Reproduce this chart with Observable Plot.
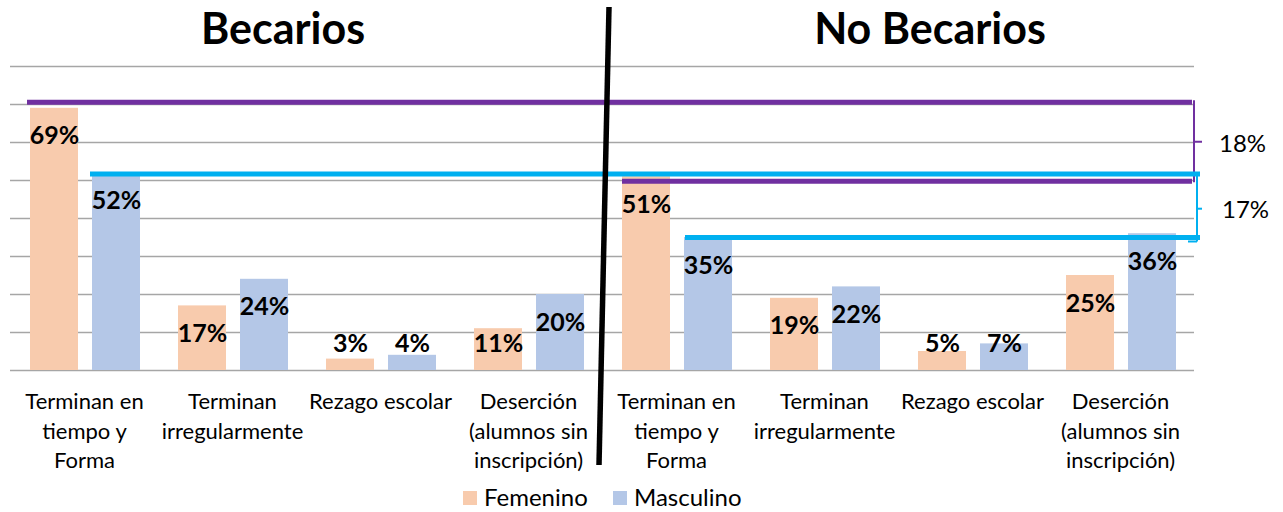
<!DOCTYPE html>
<html><head><meta charset="utf-8">
<script src="https://cdn.jsdelivr.net/npm/d3@7"></script>
<script src="https://cdn.jsdelivr.net/npm/@observablehq/plot@0.6"></script>
<style>
body{margin:0;background:#fff;font-family:Lato,sans-serif;}
#chart svg{display:block;font-family:Lato,sans-serif;}
</style></head><body><div id="chart"></div>
<script>
const panels = ["Becarios", "No Becarios"];
const categories = ["Terminan en\ntiempo y\nForma", "Terminan\nirregularmente", "Rezago escolar", "Deserción\n(alumnos sin\ninscripción)"];
const series = ["Femenino", "Masculino"];
const femenino = [69, 17, 3, 11, 51, 19, 5, 25];
const masculino = [52, 24, 4, 20, 35, 22, 7, 36];
const colors = ["#F8CBAD", "#B4C7E7"];
const yTicks = [0, 10, 20, 30, 40, 50, 60, 70, 80];
const gapLabels = ["18%", "17%"];
const gapColors = ["#7030A0", "#00B0F0"];

const keys = [];
const rows = [];
panels.forEach((p, pi) => categories.forEach((c, ci) => {
  const k = p + "|" + ci;
  keys.push(k);
  const gi = pi * 4 + ci;
  rows.push({key: k, cat: ci, sex: series[0], value: femenino[gi]});
  rows.push({key: k, cat: ci, sex: series[1], value: masculino[gi]});
}));
const fem = rows.filter(d => d.sex === series[0]);
const mas = rows.filter(d => d.sex === series[1]);
const labelY = d => Math.max(d.value - 7.4, 7.1);

function annotate(index, scales, values, dims) {
  const x = scales.x, y = scales.y;
  const bw = x(keys[1]) - x(keys[0]);
  const right = dims.width - dims.marginRight;
  const g = d3.create("svg:g");
  const line = (x1, y1, x2, y2, stroke, w) => g.append("line")
    .attr("x1", x1).attr("y1", y1).attr("x2", x2).attr("y2", y2)
    .attr("stroke", stroke).attr("stroke-width", w);
  const text = (s, tx, ty, size, weight, anchor) => g.append("text")
    .attr("x", tx).attr("y", ty).attr("dy", "0.35em")
    .attr("font-size", size).attr("font-weight", weight)
    .attr("text-anchor", anchor).attr("fill", "#000").text(s);
  // purple: Femenino, blue: Masculino (Terminan en tiempo y Forma)
  const pTop = y(femenino[0]) - 5.5, pBot = y(femenino[4]) + 5;
  const bTop = y(masculino[0]) + 1.5, bBot = y(masculino[4]) + 0.5;
  const b0 = x(keys[0]), b4 = x(keys[4]);
  line(b0 + 17, pTop, right - 2, pTop, gapColors[0], 5);
  line(b4 + 20, pBot, right - 2, pBot, gapColors[0], 5);
  line(right, pTop - 2, right, pBot + 1, gapColors[0], 2);
  line(right, (pTop + pBot) / 2, right + 8, (pTop + pBot) / 2, gapColors[0], 2);
  line(b0 + 80, bTop, right + 6, bTop, gapColors[1], 5);
  line(b4 + 83, bBot, right + 6, bBot, gapColors[1], 5);
  line(right + 3, bTop, right + 3, bBot + 4, gapColors[1], 2);
  line(right + 3, (bTop + bBot) / 2 + 3, right + 8, (bTop + bBot) / 2 + 3, gapColors[1], 2);
  line(right - 6, bBot + 4, right + 3, bBot + 4, gapColors[1], 2);
  text(gapLabels[0], right + 25, (pTop + pBot) / 2 + 2, 24, 400, "start");
  text(gapLabels[1], right + 28, (bTop + bBot) / 2 + 4, 24, 400, "start");
  // divider between panels
  line(b4 + 7, 7, b4 - 3, 465, "#000", 5.5);
  // titles
  text(panels[0], x(keys[1]) + bw - 23, 29, 43, 700, "middle");
  text(panels[1], x(keys[5]) + bw + 32, 29, 43, 700, "middle");
  // legend
  const ly = 498;
  [[463, 0], [613, 1]].forEach(([lx, i]) => {
    g.append("rect").attr("x", lx).attr("y", ly - 7).attr("width", 14).attr("height", 14).attr("fill", colors[i]);
    text(series[i], lx + 21, ly, 24, 400, "start");
  });
  return g.node();
}

const chart = Plot.plot({
  width: 1283,
  height: 512,
  marginLeft: 10,
  marginRight: 89,
  marginTop: 66,
  marginBottom: 142,
  style: {fontFamily: "Lato, sans-serif", background: "#fff"},
  x: {type: "band", domain: keys, padding: 0},
  y: {domain: [0, 80]},
  marks: [
    Plot.gridY(yTicks, {stroke: "#a6a6a6", strokeOpacity: 1, strokeWidth: 1.5}),
    Plot.barY(fem, {x: "key", y: "value", fill: colors[0], insetLeft: 20, insetRight: 80}),
    Plot.barY(mas, {x: "key", y: "value", fill: colors[1], insetLeft: 82, insetRight: 18}),
    Plot.text(fem, {x: "key", y: labelY, text: d => d.value + "%", dx: -30, fontSize: 25, fontWeight: 700, fill: "#000"}),
    Plot.text(mas, {x: "key", y: labelY, text: d => d.value + "%", dx: 32, fontSize: 25, fontWeight: 700, fill: "#000"}),
    Plot.axisX({tickSize: 0, tickPadding: 18, fontSize: 22, lineHeight: 1.34, tickFormat: k => categories[+k.split("|")[1]], label: null}),
    Plot.axisY({ticks: [], label: null}),
    annotate
  ]
});
document.getElementById("chart").appendChild(chart);
</script>
</body></html>
